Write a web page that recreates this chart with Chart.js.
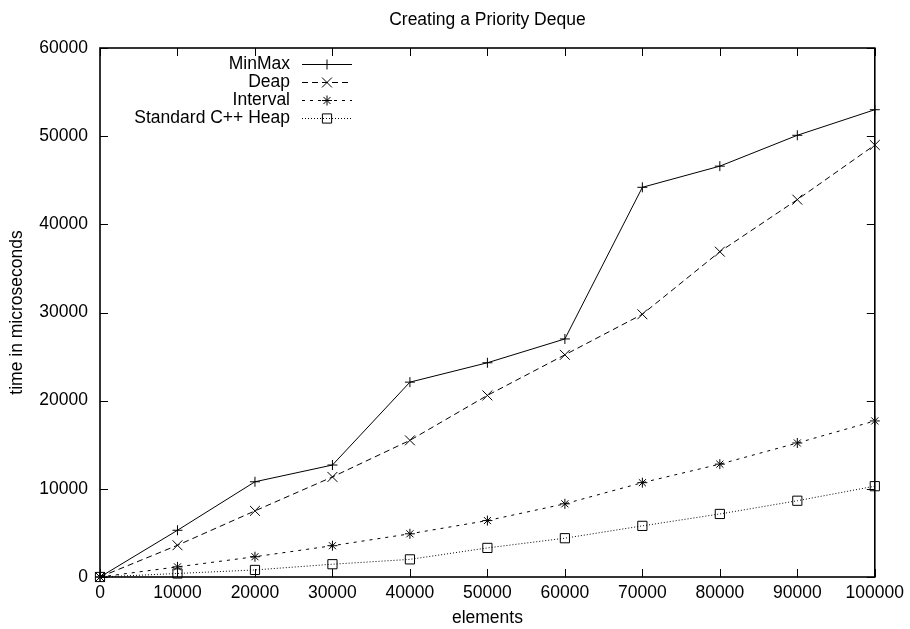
<!DOCTYPE html>
<html>
<head>
<meta charset="utf-8">
<script src="https://cdn.jsdelivr.net/npm/chart.js@4/dist/chart.umd.min.js"></script>
<style>
  html, body { margin: 0; padding: 0; background: #fff; }
  #wrap { width: 910px; height: 629px; }
</style>
</head>
<body>
<div id="wrap"><canvas id="chart" width="910" height="629"></canvas></div>
<script>
// valores (tiempo en microsegundos)
const elements = [0, 10000, 20000, 30000, 40000, 50000, 60000, 70000, 80000, 90000, 100000];
const minMax   = [0, 5300, 10800, 12700, 22100, 24300, 27000, 44200, 46600, 50100, 53000];
const deap     = [0, 3600, 7500, 11350, 15500, 20600, 25200, 29800, 36900, 42800, 49000];
const interval = [0, 1150, 2300, 3550, 4900, 6400, 8300, 10700, 12800, 15200, 17700];
const heap     = [0, 400, 800, 1450, 2000, 3300, 4400, 5800, 7150, 8650, 10300];

const seriesNames = ['MinMax', 'Deap', 'Interval', 'Standard C++ Heap'];
const xTicks = [0, 10000, 20000, 30000, 40000, 50000, 60000, 70000, 80000, 90000, 100000];
const yTicks = [0, 10000, 20000, 30000, 40000, 50000, 60000];

const FONT = '"Liberation Sans", Arial, Helvetica, sans-serif';
const FSIZE = 17.5;

Chart.defaults.font.family = FONT;
Chart.defaults.font.size = FSIZE;
Chart.defaults.color = '#000';

const toPoints = vals => vals.map((v, i) => ({ x: elements[i], y: v }));

function serie(label, vals, dash, style, radius) {
    return {
        label: label,
        data: toPoints(vals),
        borderColor: '#000',
        borderWidth: 1,
        borderDash: dash,
        pointStyle: style,
        pointRadius: radius,
        pointBorderColor: '#000',
        pointBorderWidth: 1,
        pointBackgroundColor: 'rgba(0,0,0,0)',
        tension: 0,
        fill: false,
        clip: false
    };
}

// marco con ticks hacia adentro, al estilo gnuplot
const marcoGnuplot = {
    id: 'marcoGnuplot',
    beforeDatasetsDraw(chart) {
        const { ctx, chartArea: a, scales } = chart;
        const len = 8;
        ctx.save();
        ctx.strokeStyle = '#000';
        ctx.lineWidth = 1;
        ctx.beginPath();
        xTicks.forEach(v => {
            const px = Math.round(scales.x.getPixelForValue(v)) + 0.5;
            ctx.moveTo(px, a.bottom); ctx.lineTo(px, a.bottom - len);
            ctx.moveTo(px, a.top); ctx.lineTo(px, a.top + len);
        });
        yTicks.forEach(v => {
            const py = Math.round(scales.y.getPixelForValue(v)) + 0.5;
            ctx.moveTo(a.left, py); ctx.lineTo(a.left + len, py);
            ctx.moveTo(a.right, py); ctx.lineTo(a.right - len, py);
        });
        ctx.stroke();
        ctx.lineWidth = 1.6;
        ctx.strokeRect(a.left, a.top, a.right - a.left, a.bottom - a.top);
        ctx.restore();
    }
};

// leyenda: texto alineado a la derecha y muestra de linea despues
const leyendaGnuplot = {
    id: 'leyendaGnuplot',
    afterDraw(chart) {
        const { ctx, chartArea: a } = chart;
        const textRight = a.left + 190;
        const x0 = a.left + 202, x1 = a.left + 252;
        ctx.save();
        ctx.font = FSIZE + 'px ' + FONT;
        ctx.textAlign = 'right';
        ctx.textBaseline = 'middle';
        chart.data.datasets.forEach((ds, i) => {
            const y = a.top + 16 + i * 18;
            ctx.fillStyle = '#000';
            ctx.fillText(ds.label, textRight, y);
            ctx.strokeStyle = '#000';
            ctx.lineWidth = 1;
            ctx.setLineDash(ds.borderDash || []);
            ctx.beginPath();
            ctx.moveTo(x0, y + 0.5);
            ctx.lineTo(x1, y + 0.5);
            ctx.stroke();
            ctx.setLineDash([]);
            ctx.fillStyle = 'rgba(0,0,0,0)';
            Chart.helpers.drawPoint(ctx, {
                pointStyle: ds.pointStyle,
                radius: ds.pointRadius,
                rotation: 0,
                borderWidth: 1
            }, (x0 + x1) / 2, y + 0.5);
        });
        ctx.restore();
    }
};

new Chart(document.getElementById('chart'), {
    type: 'line',
    data: {
        datasets: [
            serie(seriesNames[0], minMax, [], 'cross', 5),
            serie(seriesNames[1], deap, [6, 4], 'crossRot', 7),
            serie(seriesNames[2], interval, [3, 5], 'star', 5),
            serie(seriesNames[3], heap, [1, 2], 'rect', 6.5)
        ]
    },
    options: {
        responsive: false,
        animation: false,
        events: [],
        layout: { padding: { left: 0, right: 32, top: 0, bottom: 0 } },
        plugins: {
            legend: { display: false },
            tooltip: { enabled: false },
            title: {
                display: true,
                text: 'Creating a Priority Deque',
                fullSize: false,
                font: { size: FSIZE, weight: 'normal' },
                color: '#000',
                padding: { top: 9.5, bottom: 17.5 }
            }
        },
        scales: {
            x: {
                type: 'linear',
                min: 0,
                max: 100000,
                afterBuildTicks: s => { s.ticks = xTicks.map(v => ({ value: v })); },
                afterFit: s => { s.height = 52; },
                grid: { display: false, drawTicks: false },
                border: { display: false },
                ticks: { padding: 6, maxRotation: 0, autoSkip: false, callback: v => String(v) },
                title: { display: true, text: 'elements', padding: { top: 0, bottom: 0 } }
            },
            y: {
                type: 'linear',
                min: 0,
                max: 60000,
                afterBuildTicks: s => { s.ticks = yTicks.map(v => ({ value: v })); },
                afterFit: s => { s.width = 100; },
                grid: { display: false, drawTicks: false },
                border: { display: false },
                ticks: { padding: 12, autoSkip: false, callback: v => String(v) },
                title: { display: true, text: 'time in microseconds', padding: { top: 6.5, bottom: 0 } }
            }
        }
    },
    plugins: [marcoGnuplot, leyendaGnuplot]
});
</script>
</body>
</html>
